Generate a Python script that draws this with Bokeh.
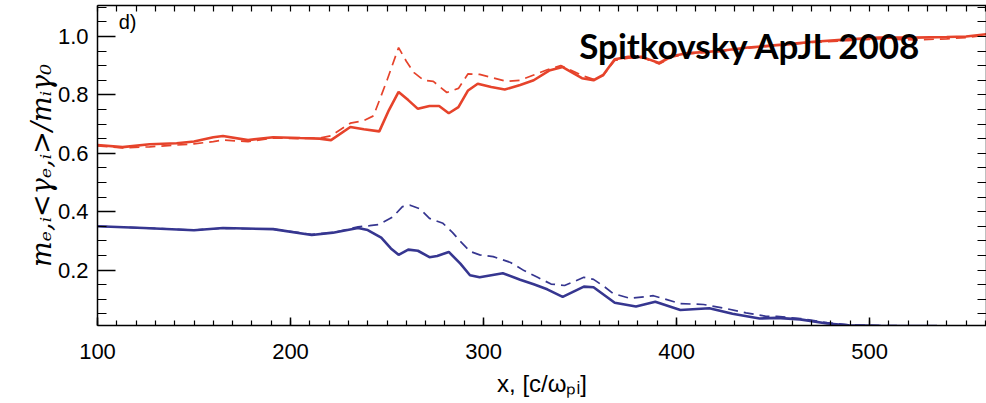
from bokeh.plotting import figure
from bokeh.models import LinearAxis, FixedTicker, Range1d, Label
from bokeh.embed import file_html
from bokeh.resources import INLINE

# Position along the flow, in units of c/omega_pi
red_solid_x = [100, 113, 127, 141, 150, 160, 165, 178, 191, 205, 215, 221, 231, 238, 246, 251,
               256, 261, 266, 272, 277, 282, 287, 292, 297, 304, 311, 319, 326, 334, 341, 351,
               357, 362, 368, 375, 382, 391, 398, 406, 422, 437, 455, 471, 489, 505, 523, 540,
               550, 561]
red_solid_y = [0.628, 0.621, 0.631, 0.634, 0.640, 0.655, 0.659, 0.645, 0.655, 0.652, 0.650, 0.645,
               0.690, 0.682, 0.675, 0.748, 0.810, 0.782, 0.752, 0.762, 0.762, 0.737, 0.758, 0.815,
               0.838, 0.827, 0.818, 0.834, 0.850, 0.883, 0.895, 0.857, 0.850, 0.868, 0.922, 0.930,
               0.930, 0.909, 0.933, 0.943, 0.950, 0.962, 0.972, 0.982, 0.990, 0.996, 0.996, 0.998,
               1.000, 1.008]

red_dash_x = [100, 113, 127, 141, 150, 160, 165, 178, 191, 205, 215, 221, 231, 238, 243, 250,
              256, 260, 264, 269, 274, 281, 287, 292, 298, 305, 312, 319, 326, 333, 340, 352,
              357, 362, 368, 375, 382, 391, 398, 406, 422, 437, 455, 471, 489, 505, 523, 540,
              550, 561]
red_dash_y = [0.625, 0.618, 0.622, 0.628, 0.632, 0.640, 0.645, 0.640, 0.652, 0.650, 0.652, 0.660,
              0.703, 0.712, 0.728, 0.850, 0.962, 0.915, 0.876, 0.850, 0.846, 0.808, 0.822, 0.872,
              0.870, 0.858, 0.846, 0.850, 0.868, 0.886, 0.900, 0.864, 0.853, 0.866, 0.918, 0.926,
              0.928, 0.906, 0.930, 0.940, 0.948, 0.960, 0.970, 0.980, 0.986, 0.992, 0.988, 0.992,
              0.996, 1.005]

blue_solid_x = [100, 124, 150, 165, 191, 211, 222, 235, 240, 247, 252, 256, 261, 266, 272, 276,
                282, 288, 293, 298, 304, 310, 319, 326, 333, 341, 352, 357, 368, 379, 389, 402,
                417, 429, 443, 452, 464, 478, 489, 505, 520, 535]
blue_solid_y = [0.350, 0.344, 0.336, 0.344, 0.340, 0.320, 0.328, 0.344, 0.337, 0.311, 0.274, 0.252,
                0.270, 0.266, 0.244, 0.248, 0.262, 0.222, 0.182, 0.175, 0.182, 0.189, 0.167, 0.151,
                0.134, 0.108, 0.143, 0.141, 0.088, 0.075, 0.091, 0.063, 0.069, 0.050, 0.034, 0.036,
                0.031, 0.017, 0.011, 0.009, 0.008, 0.008]

blue_dash_x = [100, 124, 150, 165, 191, 211, 222, 235, 241, 246, 253, 258, 262, 267, 272, 279,
               284, 288, 293, 298, 305, 314, 321, 328, 335, 342, 352, 357, 363, 367, 376, 388,
               402, 414, 425, 436, 446, 452, 464, 478, 489, 505, 520, 535]
blue_dash_y = [0.350, 0.344, 0.337, 0.343, 0.340, 0.322, 0.328, 0.348, 0.352, 0.356, 0.382, 0.417,
               0.422, 0.410, 0.377, 0.360, 0.328, 0.298, 0.264, 0.252, 0.246, 0.226, 0.198, 0.175,
               0.152, 0.147, 0.175, 0.168, 0.141, 0.120, 0.103, 0.112, 0.085, 0.082, 0.069, 0.053,
               0.042, 0.041, 0.034, 0.020, 0.012, 0.010, 0.009, 0.008]

x_major = [100, 200, 300, 400, 500]
x_minor = list(range(100, 561, 10))
y_major = [0.2, 0.4, 0.6, 0.8, 1.0]
y_minor = [round(0.05 * k, 2) for k in range(1, 23)]
y_labels = {0.2: "0.2", 0.4: "0.4", 0.6: "0.6", 0.8: "0.8", 1.0: "1.0"}

RED = "#e6432b"
BLUE = "#363690"
TICK_FONT = "Liberation Sans"

p = figure(width=986, height=403, output_backend="svg", toolbar_location=None,
           x_range=Range1d(100, 560.6), y_range=Range1d(0.01, 1.106),
           x_axis_location=None, y_axis_location=None,
           min_border_left=97, min_border_right=0, min_border_top=5, min_border_bottom=78)
p.grid.visible = False
p.outline_line_color = None
p.background_fill_color = "white"


def style_axis(ax, major_in, minor_in):
    ax.axis_line_color = "black"
    ax.axis_line_width = 1.5
    ax.major_tick_line_color = "black"
    ax.minor_tick_line_color = "black"
    ax.major_tick_line_width = 1.5
    ax.minor_tick_line_width = 1.2
    ax.major_tick_in = major_in
    ax.major_tick_out = 0
    ax.minor_tick_in = minor_in
    ax.minor_tick_out = 0
    ax.major_label_text_font = TICK_FONT
    ax.major_label_text_font_size = "22px"
    ax.major_label_text_color = "black"
    ax.axis_label_text_color = "black"


bottom = LinearAxis(ticker=FixedTicker(ticks=x_major, minor_ticks=x_minor))
style_axis(bottom, 8, 5)
bottom.major_label_standoff = 18
bottom.axis_label = "x, [c/ωₚᵢ]"
bottom.axis_label_text_font = TICK_FONT
bottom.axis_label_text_font_size = "24px"
bottom.axis_label_text_font_style = "normal"
bottom.axis_label_standoff = 8
p.add_layout(bottom, "below")

# frame edges opposite the labelled axes: tick marks only
top = LinearAxis(ticker=FixedTicker(ticks=[], minor_ticks=x_minor))
style_axis(top, 0, 6)
top.major_label_standoff = 0
p.add_layout(top, "above")

left = LinearAxis(ticker=FixedTicker(ticks=y_major, minor_ticks=y_minor),
                  major_label_overrides=y_labels)
style_axis(left, 18, 9)
left.major_label_standoff = 9
left.axis_label = "mₑ,ᵢ<γₑ,ᵢ>/mᵢγ₀"
left.axis_label_text_font = "DejaVu Serif"
left.axis_label_text_font_style = "italic"
left.axis_label_text_font_size = "27px"
left.axis_label_standoff = -2
p.add_layout(left, "left")

right = LinearAxis(ticker=FixedTicker(ticks=[], minor_ticks=y_minor))
style_axis(right, 0, 9)
right.major_label_standoff = 0
p.add_layout(right, "right")

# ion curves (red) and electron curves (blue); dashed = companion run
p.line(red_dash_x, red_dash_y, line_color=RED, line_width=1.7, line_dash="10 6")
p.line(red_solid_x, red_solid_y, line_color=RED, line_width=2.6)
p.line(blue_dash_x, blue_dash_y, line_color=BLUE, line_width=1.7, line_dash="10 6")
p.line(blue_solid_x, blue_solid_y, line_color=BLUE, line_width=2.6)

p.add_layout(Label(x=111, y=1.05, text="d)", text_font=TICK_FONT, text_font_size="20px",
                   text_color="black", text_baseline="alphabetic", text_align="left"))
p.add_layout(Label(x=438.5, y=0.972, text="Spitkovsky ApJL 2008", text_font="Lato",
                   text_font_style="bold", text_font_size="35px", text_color="black",
                   text_baseline="alphabetic", text_align="center"))

open("out.html", "w").write(file_html(p, INLINE))
